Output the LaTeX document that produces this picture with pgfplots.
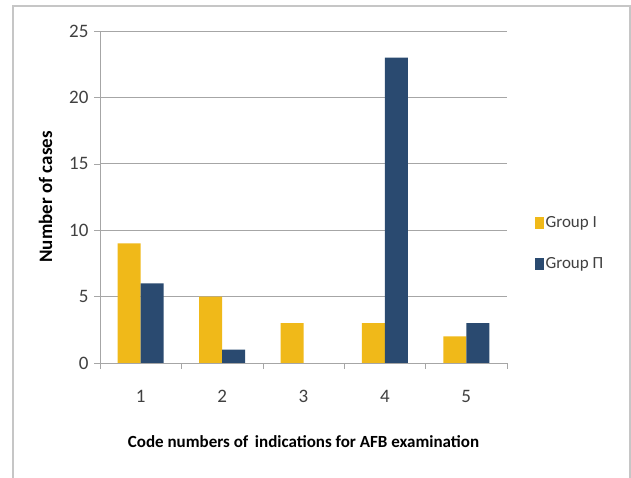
\documentclass[border=0pt]{standalone}
\usepackage{pgfplots}
\pgfplotsset{compat=1.18}
\usepackage{fontspec}
\setmainfont{Carlito}
\definecolor{gyellow}{HTML}{F0B919}
\definecolor{gblue}{HTML}{2A4A70}
\definecolor{gridgray}{HTML}{A6A6A6}
\definecolor{txtgray}{HTML}{404040}
\begin{document}
\begin{tikzpicture}[x=1pt,y=1pt]
\useasboundingbox (0,0) rectangle (631,478);
\fill[white] (0,0) rectangle (631,478);
\draw[gray!45, line width=2pt] (13,-10) -- (13,472) -- (630,472) -- (630,-10);
\begin{axis}[
  at={(100pt,115pt)}, anchor=south west,
  scale only axis, width=407pt, height=332pt,
  xmin=0.5, xmax=5.5, ymin=0, ymax=25,
  ytick={0,5,10,15,20,25},
  xtick={1,2,3,4,5},
  minor xtick={0.5,1.5,2.5,3.5,4.5,5.5},
  major x tick style={draw=none},
  minor x tick style={draw=gridgray, thin},
  minor tick length=6pt,
  major tick length=6pt,
  tick align=outside,
  y tick style={draw=gridgray, thin},
  axis x line*=bottom, axis y line*=left,
  axis line style={draw=gridgray, thin, -},
  ymajorgrids, grid style={draw=gridgray, line width=0.9pt},
  ybar=0pt, bar width=23pt,
  ticklabel style={font=\fontsize{19}{22}\selectfont, text=txtgray},
  /pgf/number format/assume math mode=true,
  xticklabel style={yshift=-18pt},
  yticklabel style={xshift=-2pt},
  xlabel={\textbf{Code numbers of\, indications for AFB examination}},
  xlabel style={font=\fontsize{17}{20}\selectfont, text=black, yshift=-26pt},
  ylabel={\textbf{Number of cases}},
  ylabel style={font=\fontsize{19}{22}\selectfont, text=black, yshift=10pt},
  legend style={at={(1.06,0.36)}, anchor=west, draw=none, fill=none,
    font=\fontsize{17}{20}\selectfont, text=txtgray,
    row sep=24pt},
  legend cell align=left,
  legend image code/.code={\fill[#1] (0pt,-6pt) rectangle (9pt,6pt);},
]
\addplot[draw=none, fill=gyellow] coordinates {(1,9) (2,5) (3,3) (4,3) (5,2)};
\addplot[draw=none, fill=gblue] coordinates {(1,6) (2,1) (4,23) (5,3)};
\legend{Group I, Group Π}
\end{axis}
\end{tikzpicture}
\end{document}
